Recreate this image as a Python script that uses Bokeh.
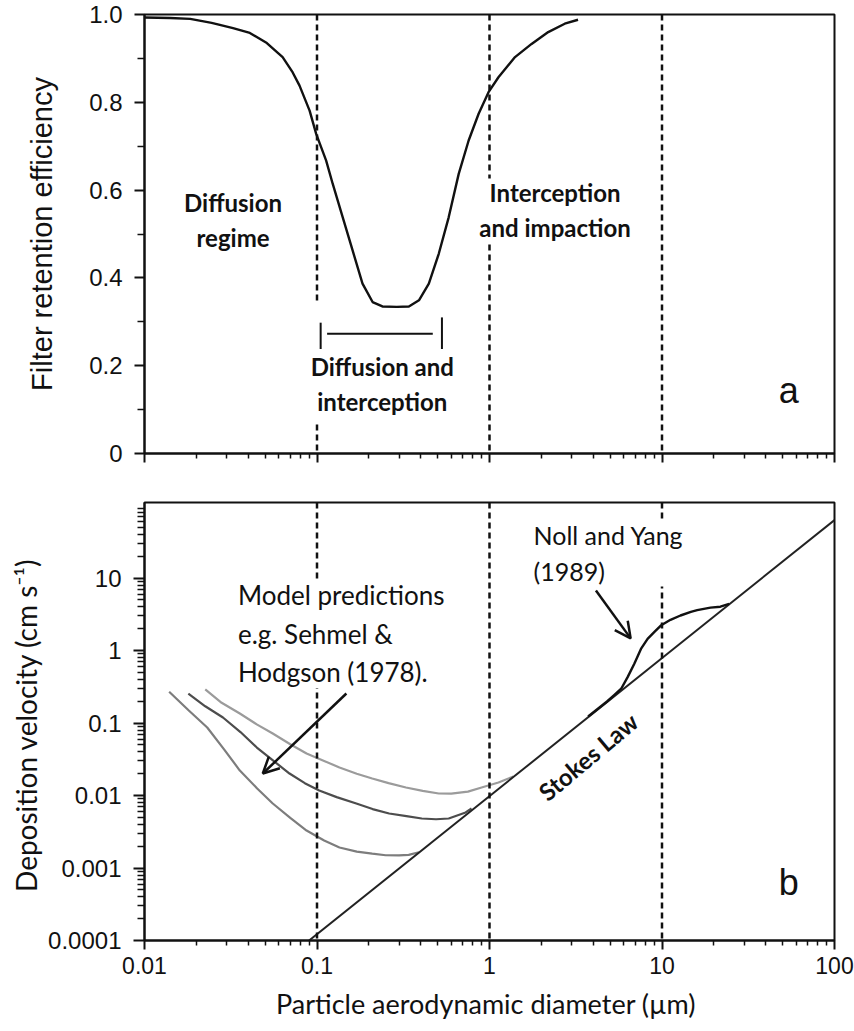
import numpy as np
from bokeh.plotting import figure
from bokeh.models import FixedTicker, Span, Label, Arrow, OpenHead, BoxAnnotation
from bokeh.layouts import column
from bokeh.embed import file_html
from bokeh.resources import INLINE

# ---------------- data ----------------
# panel a : filter retention efficiency
eff_diam = [0.01, 0.0141, 0.0184, 0.0245, 0.0326, 0.0408, 0.0512, 0.0632, 0.0723, 0.0792,
            0.0906, 0.0989, 0.113, 0.1234, 0.141, 0.161, 0.1836, 0.21, 0.2395, 0.29,
            0.341, 0.39, 0.445, 0.508, 0.58, 0.663, 0.757, 0.865, 0.987, 1.127,
            1.406, 1.754, 2.19, 2.73, 3.26]
eff_value = [0.993, 0.992, 0.990, 0.981, 0.969, 0.958, 0.935, 0.903, 0.868, 0.838,
             0.781, 0.728, 0.667, 0.614, 0.538, 0.462, 0.387, 0.345, 0.335, 0.334,
             0.335, 0.349, 0.387, 0.455, 0.538, 0.637, 0.713, 0.774, 0.823, 0.857,
             0.903, 0.933, 0.960, 0.979, 0.988]

# panel b : deposition velocity
model_a_d = [0.0139, 0.018, 0.0231, 0.029, 0.0357, 0.045, 0.0554, 0.07, 0.087, 0.11,
             0.135, 0.17, 0.209, 0.25, 0.299, 0.34, 0.39]
model_a_v = [0.27, 0.15, 0.0867, 0.043, 0.0221, 0.0125, 0.00776, 0.0049, 0.00329, 0.0024,
             0.00192, 0.00168, 0.00158, 0.00150, 0.00149, 0.00152, 0.00165]

model_b_d = [0.01795, 0.0225, 0.0285, 0.036, 0.0448, 0.056, 0.0693, 0.085, 0.103, 0.13,
             0.169, 0.21, 0.262, 0.33, 0.405, 0.49, 0.58, 0.727, 0.787]
model_b_v = [0.255, 0.17, 0.119, 0.075, 0.0459, 0.030, 0.0201, 0.0148, 0.01172, 0.0095,
             0.00776, 0.0065, 0.00565, 0.0052, 0.00482, 0.0047, 0.00482, 0.00584, 0.00662]

model_c_d = [0.0225, 0.028, 0.0357, 0.045, 0.0554, 0.07, 0.087, 0.11, 0.135, 0.17,
             0.209, 0.26, 0.328, 0.41, 0.508, 0.6, 0.75, 0.9, 1.127, 1.375]
model_c_v = [0.29, 0.19, 0.135, 0.095, 0.0716, 0.051, 0.0379, 0.030, 0.0243, 0.020,
             0.01714, 0.0148, 0.01288, 0.0116, 0.01066, 0.0106, 0.0113, 0.0129, 0.0151, 0.0183]

stokes_d = [0.09, 100]
stokes_v = [0.0001, 63]

noll_d = [3.73, 4.8, 5.3, 5.8, 6.32, 6.91, 7.55, 8.25, 9.01, 9.84, 11.2, 12.8, 14.7, 16.0,
          19.1, 21.8, 24.5]
noll_v = [0.123, 0.198, 0.245, 0.297, 0.429, 0.655, 1.05, 1.45, 1.79, 2.21, 2.65, 3.04, 3.40,
          3.60, 3.90, 4.02, 4.40]

# ticks
x_ticks = [0.01, 0.1, 1, 10, 100]
x_tick_labels = ["0.01", "0.1", "1", "10", "100"]
ya_ticks = [0, 0.2, 0.4, 0.6, 0.8, 1.0]
ya_tick_labels = ["0", "0.2", "0.4", "0.6", "0.8", "1.0"]
yb_ticks = [0.0001, 0.001, 0.01, 0.1, 1, 10]
yb_tick_labels = ["0.0001", "0.001", "0.01", "0.1", "1", "10"]

regime_bounds = [0.1, 1, 10]
bracket_range = [0.105, 0.53]
bracket_level = 0.273

# ---------------- styling helpers ----------------
TICK_FONT = "Liberation Sans"
CAL = "Lato"
INK = "#111111"


def log_minor(lo, hi):
    return [m * 10.0 ** k for k in range(lo, hi) for m in range(2, 10)]


def style_common(p):
    p.grid.visible = False
    p.outline_line_color = INK
    p.outline_line_width = 2
    p.background_fill_color = "white"
    p.border_fill_color = "white"
    for ax in (p.xaxis[0], p.yaxis[0]):
        ax.axis_line_width = 2
        ax.axis_line_color = INK
        ax.major_tick_line_width = 2
        ax.minor_tick_line_width = 1.5
        ax.major_tick_line_color = INK
        ax.minor_tick_line_color = INK
        ax.major_tick_in = 0
        ax.minor_tick_in = 0
        ax.major_label_text_font = TICK_FONT
        ax.major_label_text_font_size = "24px"
        ax.major_label_text_color = INK


W = 690
# ---------------- panel a ----------------
p1 = figure(x_axis_type="log", x_range=(0.01, 100), y_range=(0, 1.0),
            frame_width=W, frame_height=439,
            min_border_left=144, min_border_right=20, min_border_top=14, min_border_bottom=26,
            output_backend="svg", toolbar_location=None)
style_common(p1)
p1.xaxis.ticker = FixedTicker(ticks=x_ticks, minor_ticks=log_minor(-2, 2))
p1.xaxis.major_tick_out = 9
p1.xaxis.minor_tick_out = 5
p1.xaxis.major_label_text_font_size = "2px"
p1.xaxis.major_label_text_alpha = 0
p1.xaxis.major_label_standoff = 0
p1.yaxis.ticker = FixedTicker(ticks=ya_ticks, minor_ticks=[0.1, 0.3, 0.5, 0.7, 0.9])
p1.yaxis.major_label_overrides = {t: l for t, l in zip(ya_ticks, ya_tick_labels)}
p1.yaxis.major_tick_out = 10
p1.yaxis.minor_tick_out = 7
p1.yaxis.major_label_standoff = 12
p1.yaxis.axis_label = "Filter retention efficiency"
p1.yaxis.axis_label_text_font = TICK_FONT
p1.yaxis.axis_label_text_font_style = "normal"
p1.yaxis.axis_label_text_font_size = "29px"
p1.yaxis.axis_label_text_color = INK
p1.yaxis.axis_label_standoff = 28

for b in regime_bounds:
    p1.add_layout(Span(location=b, dimension="height", line_color=INK, line_width=2.5,
                       line_dash="6 4"))

p1.line(eff_diam, eff_value, line_color=INK, line_width=2.4)

# mask of the 0.1 dashed line behind the bracket text
p1.add_layout(BoxAnnotation(left=0.0936, right=0.1069, bottom=0.068, top=0.342,
                            fill_color="white", fill_alpha=1, line_color=None))

p1.segment(x0=[bracket_range[0], bracket_range[1], bracket_range[0] * 1.09],
           y0=[bracket_level - 0.035, bracket_level - 0.035, bracket_level],
           x1=[bracket_range[0], bracket_range[1], bracket_range[1] / 1.13],
           y1=[bracket_level + 0.025, bracket_level + 0.037, bracket_level],
           line_color=INK, line_width=2, level="overlay")

p1.add_layout(Label(x=0.0326, y=0.531, text="Diffusion\nregime", text_align="center",
                    text_baseline="middle", text_font=CAL, text_font_style="bold",
                    text_font_size="24px", text_color=INK))
p1.add_layout(Label(x=2.40, y=0.554, text="Interception\nand impaction", text_align="center",
                    text_baseline="middle", text_font=CAL, text_font_style="bold",
                    text_font_size="24px", text_color=INK,
                    background_fill_color="white"))
p1.add_layout(Label(x=0.239, y=0.159, text="Diffusion and\ninterception", text_align="center",
                    text_baseline="middle", text_font=CAL, text_font_style="bold",
                    text_font_size="24px", text_color=INK))
p1.add_layout(Label(x=54.3, y=0.1435, text="a", text_align="center", text_baseline="middle",
                    text_font=TICK_FONT, text_font_size="36px", text_color=INK))

# ---------------- panel b ----------------
p2 = figure(x_axis_type="log", y_axis_type="log", x_range=(0.01, 100), y_range=(0.0001, 110),
            frame_width=W, frame_height=438,
            min_border_left=144, min_border_right=20, min_border_top=23, min_border_bottom=90,
            output_backend="svg", toolbar_location=None)
style_common(p2)
p2.xaxis.ticker = FixedTicker(ticks=x_ticks, minor_ticks=log_minor(-2, 2))
p2.xaxis.major_label_overrides = {t: l for t, l in zip(x_ticks, x_tick_labels)}
p2.xaxis.major_label_text_font_size = "23px"
p2.xaxis.major_tick_out = 9
p2.xaxis.minor_tick_out = 5
p2.xaxis.major_label_standoff = 7
p2.xaxis.axis_label = "Particle aerodynamic diameter  (µm)"
p2.xaxis.axis_label_text_font = CAL
p2.xaxis.axis_label_text_font_style = "normal"
p2.xaxis.axis_label_text_font_size = "27px"
p2.xaxis.axis_label_text_color = INK
p2.xaxis.axis_label_standoff = 10
p2.yaxis.ticker = FixedTicker(ticks=yb_ticks, minor_ticks=log_minor(-4, 2))
p2.yaxis.major_label_overrides = {t: l for t, l in zip(yb_ticks, yb_tick_labels)}
p2.yaxis.major_tick_out = 11
p2.yaxis.minor_tick_out = 7
p2.yaxis.major_label_standoff = 12
p2.yaxis.axis_label = "Deposition velocity  (cm s⁻¹)"
p2.yaxis.axis_label_text_font = CAL
p2.yaxis.axis_label_text_font_style = "normal"
p2.yaxis.axis_label_text_font_size = "28px"
p2.yaxis.axis_label_text_color = INK
p2.yaxis.axis_label_standoff = 2

for b in regime_bounds:
    p2.add_layout(Span(location=b, dimension="height", line_color=INK, line_width=2.5,
                       line_dash="6 4"))

p2.line(model_c_d, model_c_v, line_color="#9b9b9b", line_width=2.2)
p2.line(model_b_d, model_b_v, line_color="#4d4d4d", line_width=2.2)
p2.line(model_a_d, model_a_v, line_color="#7d7d7d", line_width=2.2)
p2.line(stokes_d, stokes_v, line_color="#222222", line_width=2)
p2.line(noll_d, noll_v, line_color=INK, line_width=2.4)

p2.add_layout(Label(x=0.0348, y=1.71, text="Model predictions\n e.g. Sehmel &\nHodgson (1978).",
                    text_align="left", text_baseline="middle", text_font=CAL,
                    text_font_size="26px", text_color=INK,
                    background_fill_color="white"))
p2.add_layout(Label(x=1.80, y=21.8, text="Noll and Yang\n(1989)", text_align="left",
                    text_baseline="middle", text_font=CAL, text_font_size="25px",
                    text_color=INK, background_fill_color="white"))
p2.add_layout(Label(x=3.73, y=0.0345, text="Stokes Law", text_align="center",
                    text_baseline="middle", text_font=CAL, text_font_style="bold",
                    text_font_size="24px", text_color=INK, angle=40, angle_units="deg"))
p2.add_layout(Label(x=54.3, y=0.00063, text="b", text_align="center", text_baseline="middle",
                    text_font=TICK_FONT, text_font_size="36px", text_color=INK))

p2.add_layout(Arrow(end=OpenHead(size=16, line_width=2.5, line_color=INK),
                    x_start=0.148, y_start=0.255, x_end=0.0485, y_end=0.0201,
                    line_width=2.5, line_color=INK))
p2.add_layout(Arrow(end=OpenHead(size=16, line_width=2.5, line_color=INK),
                    x_start=4.14, y_start=6.73, x_end=6.58, y_end=1.47,
                    line_width=2.5, line_color=INK))

layout = column(p1, p2, spacing=0)
open("out.html", "w").write(file_html(layout, INLINE))
